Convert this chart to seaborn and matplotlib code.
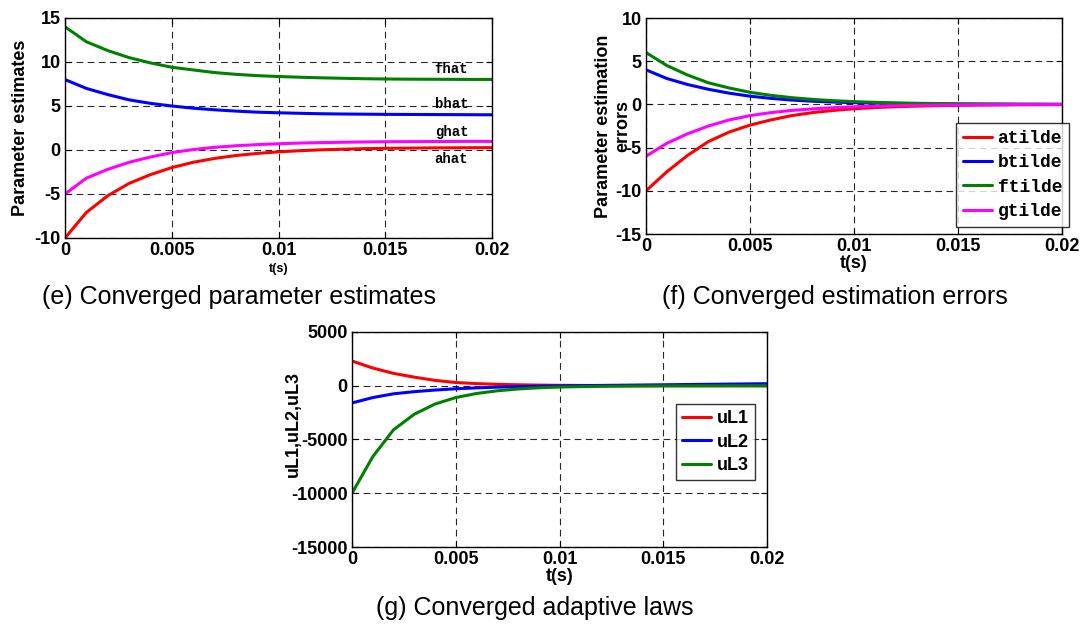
import numpy as np
import pandas as pd
import matplotlib
matplotlib.use("Agg")
import matplotlib.pyplot as plt
import seaborn as sns

# ---- data ----
t = [0.000, 0.001, 0.002, 0.003, 0.004, 0.005, 0.006, 0.007, 0.008, 0.009, 0.010,
     0.011, 0.012, 0.013, 0.014, 0.015, 0.016, 0.017, 0.018, 0.019, 0.020]

fhat = [14.0, 12.3, 11.3, 10.5, 9.9, 9.4, 9.1, 8.8, 8.6, 8.45, 8.35,
        8.27, 8.2, 8.15, 8.1, 8.07, 8.05, 8.04, 8.03, 8.02, 8.02]
bhat = [8.0, 7.0, 6.3, 5.7, 5.3, 5.0, 4.75, 4.57, 4.42, 4.3, 4.23,
        4.17, 4.12, 4.09, 4.07, 4.05, 4.04, 4.03, 4.02, 4.01, 4.0]
ghat = [-5.0, -3.2, -2.2, -1.4, -0.8, -0.3, 0.05, 0.3, 0.48, 0.61, 0.71,
        0.79, 0.84, 0.88, 0.91, 0.94, 0.95, 0.96, 0.97, 0.98, 0.98]
ahat = [-10.0, -7.1, -5.2, -3.8, -2.8, -2.0, -1.4, -0.96, -0.63, -0.39, -0.21,
        -0.08, 0.02, 0.09, 0.15, 0.19, 0.21, 0.24, 0.25, 0.26, 0.27]

atilde = [-10.0, -7.8, -5.9, -4.3, -3.2, -2.4, -1.8, -1.3, -0.95, -0.7, -0.5,
          -0.37, -0.27, -0.2, -0.15, -0.11, -0.08, -0.06, -0.04, -0.03, -0.02]
btilde = [4.0, 3.0, 2.3, 1.75, 1.3, 0.95, 0.7, 0.5, 0.37, 0.27, 0.2,
          0.15, 0.11, 0.08, 0.06, 0.04, 0.03, 0.02, 0.01, 0.01, 0.0]
ftilde = [6.0, 4.5, 3.4, 2.5, 1.9, 1.4, 1.05, 0.78, 0.58, 0.43, 0.32,
          0.24, 0.18, 0.13, 0.1, 0.07, 0.05, 0.04, 0.03, 0.02, 0.01]
gtilde = [-6.0, -4.5, -3.4, -2.5, -1.8, -1.3, -0.95, -0.7, -0.52, -0.38, -0.28,
          -0.2, -0.15, -0.11, -0.08, -0.06, -0.04, -0.03, -0.02, -0.02, -0.01]

uL1 = [2300, 1650, 1150, 800, 500, 300, 200, 130, 90, 60, 40,
       30, 20, 15, 10, 8, 5, 4, 3, 2, 1]
uL2 = [-1600, -1100, -750, -550, -400, -280, -200, -130, -80, -40, -10,
       10, 30, 50, 70, 90, 110, 130, 150, 170, 190]
uL3 = [-10000, -6600, -4100, -2650, -1700, -1100, -720, -470, -300, -190, -120,
       -80, -55, -35, -23, -15, -10, -6, -4, -2, -1]

labels_e = ["fhat", "bhat", "ghat", "ahat"]
label_e_y = [9.2, 5.2, 2.0, -1.0]
legend_f = ["atilde", "btilde", "ftilde", "gtilde"]
legend_g = ["uL1", "uL2", "uL3"]
xticks = [0, 0.005, 0.01, 0.015, 0.02]
xticklabels = ["0", "0.005", "0.01", "0.015", "0.02"]

# ---- style ----
sns.set_theme(style="white")
plt.rcParams['font.family'] = ['Liberation Sans', 'DejaVu Sans']
plt.rcParams['font.weight'] = 'bold'
plt.rcParams['text.color'] = 'black'
plt.rcParams['axes.labelcolor'] = 'black'
plt.rcParams['xtick.color'] = 'black'
plt.rcParams['ytick.color'] = 'black'

RED, BLUE, GREEN, MAG = "#ff0000", "#0000ff", "#008000", "#ff00ff"
fig = plt.figure(figsize=(10.92, 6.26), dpi=100)

ax_e = fig.add_axes([65/1092, 1-238/626, 427/1092, 220/626])
ax_f = fig.add_axes([646/1092, 1-234/626, 416/1092, 216/626])
ax_g = fig.add_axes([352/1092, 1-547/626, 415/1092, 215/626])

def style_axis(ax, ylim, yticks, yticklabels):
    ax.set_xlim(0, 0.02)
    ax.set_ylim(*ylim)
    ax.set_xticks(xticks)
    ax.set_xticklabels(xticklabels)
    ax.set_yticks(yticks)
    ax.set_yticklabels(yticklabels)
    ax.grid(True, color="black", linestyle=(0, (6, 4)), linewidth=0.8, alpha=0.85)
    ax.tick_params(direction="in", length=4, width=0.8, labelsize=13,
                   top=True, right=True, bottom=True, left=True, pad=3,
                   colors="black", labelcolor="black")
    for lbl in ax.get_xticklabels() + ax.get_yticklabels():
        lbl.set_fontweight("bold")
        lbl.set_color("black")
    for s in ax.spines.values():
        s.set_color("black")
        s.set_linewidth(1.0)
    ax.set_facecolor("white")

LW = 2.2
# panel e
df_e = pd.DataFrame({"t": t, "fhat": fhat, "bhat": bhat, "ghat": ghat, "ahat": ahat})
for name, c in zip(["fhat", "bhat", "ghat", "ahat"], [GREEN, BLUE, MAG, RED]):
    sns.lineplot(data=df_e, x="t", y=name, ax=ax_e, color=c, linewidth=LW)
style_axis(ax_e, (-10, 15), [-10, -5, 0, 5, 10, 15], ["-10", "-5", "0", "5", "10", "15"])
for lab, yv in zip(labels_e, label_e_y):
    ax_e.text(0.0181, yv, lab, ha="center", va="center", fontsize=10, color="black",
              family=["Liberation Mono", "DejaVu Sans Mono"], fontweight="bold")
ax_e.set_xlabel("t(s)", fontsize=9, fontweight="bold", labelpad=3, color="black")
ax_e.set_ylabel("Parameter estimates", fontsize=13, fontweight="bold", labelpad=4, color="black")

# panel f
df_f = pd.DataFrame({"t": t, "atilde": atilde, "btilde": btilde, "ftilde": ftilde, "gtilde": gtilde})
for name, c in zip(legend_f, [RED, BLUE, GREEN, MAG]):
    sns.lineplot(data=df_f, x="t", y=name, ax=ax_f, color=c, linewidth=LW, label=name)
style_axis(ax_f, (-15, 10), [-15, -10, -5, 0, 5, 10], ["-15", "-10", "-5", "0", "5", "10"])
ax_f.set_xlabel("t(s)", fontsize=13, fontweight="bold", labelpad=0, color="black")
ax_f.set_ylabel("Parameter estimation\nerrors", fontsize=13, fontweight="bold",
                linespacing=1.15, color="black")
ax_f.yaxis.set_label_coords(-0.036, 0.5)
leg_f = ax_f.legend(loc="upper left", bbox_to_anchor=(956/1092, 1-123/626),
                    bbox_transform=fig.transFigure, frameon=True, fancybox=False,
                    prop={"family": ["Liberation Mono", "DejaVu Sans Mono"], "weight": "bold", "size": 13},
                    handlelength=1.6, handletextpad=0.3, borderpad=0.4, labelspacing=0.4,
                    borderaxespad=0)
leg_f.get_frame().set_edgecolor("black")
leg_f.get_frame().set_linewidth(1.0)
for txt in leg_f.get_texts():
    txt.set_color("black")

# panel g
df_g = pd.DataFrame({"t": t, "uL1": uL1, "uL2": uL2, "uL3": uL3})
for name, c in zip(legend_g, [RED, BLUE, GREEN]):
    sns.lineplot(data=df_g, x="t", y=name, ax=ax_g, color=c, linewidth=LW, label=name)
style_axis(ax_g, (-15000, 5000), [-15000, -10000, -5000, 0, 5000],
           ["-15000", "-10000", "-5000", "0", "5000"])
ax_g.set_xlabel("t(s)", fontsize=13, fontweight="bold", labelpad=0, color="black")
ax_g.set_ylabel("uL1,uL2,uL3", fontsize=13, fontweight="bold", color="black")
ax_g.yaxis.set_label_coords(-0.12, 0.57)
leg_g = ax_g.legend(loc="upper left", bbox_to_anchor=(676/1092, 1-404/626),
                    bbox_transform=fig.transFigure, frameon=True, fancybox=False,
                    prop={"weight": "bold", "size": 13},
                    handlelength=1.6, handletextpad=0.3, borderpad=0.35, labelspacing=0.35,
                    borderaxespad=0)
leg_g.get_frame().set_edgecolor("black")
leg_g.get_frame().set_linewidth(1.0)
for txt in leg_g.get_texts():
    txt.set_color("black")

# captions
fig.text(239/1092, 1-297/626, "(e) Converged parameter estimates", ha="center", va="center",
         fontsize=18, fontweight="normal", color="black")
fig.text(835/1092, 1-297/626, "(f) Converged estimation errors", ha="center", va="center",
         fontsize=18, fontweight="normal", color="black")
fig.text(535/1092, 1-608/626, "(g) Converged adaptive laws", ha="center", va="center",
         fontsize=18, fontweight="normal", color="black")

fig.savefig("out.png", dpi=100, facecolor="white")
